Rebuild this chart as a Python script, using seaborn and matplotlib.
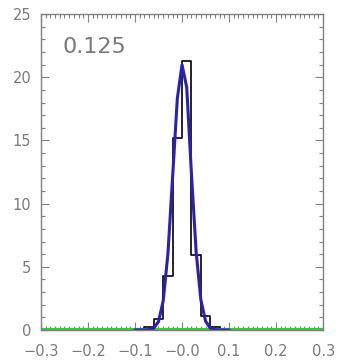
import numpy as np
import pandas as pd
import matplotlib
matplotlib.use("Agg")
import matplotlib.pyplot as plt
from matplotlib.ticker import MultipleLocator, FixedLocator, FixedFormatter
import seaborn as sns

# Histogram of residuals (density), bin edges and heights
bin_edges = [-0.12, -0.10, -0.08, -0.06, -0.04, -0.02, 0.00, 0.02, 0.04, 0.06, 0.08, 0.10, 0.12]
bin_heights = [0.0, 0.0, 0.2, 0.9, 4.3, 15.2, 21.3, 5.9, 1.1, 0.25, 0.0, 0.0]

# Fitted profile sampled points
fit_x = [-0.10, -0.08, -0.07, -0.06, -0.05, -0.04, -0.03, -0.02, -0.01, 0.00,
         0.01, 0.02, 0.03, 0.04, 0.05, 0.06, 0.07, 0.08, 0.10]
fit_y = [0.0, 0.0, 0.02, 0.14, 0.66, 2.3, 6.0, 12.1, 18.3, 21.0,
         19.2, 12.4, 6.2, 2.4, 0.7, 0.15, 0.02, 0.0, 0.0]

# Reference (near-zero) curve across the full range
ref_x = [-0.3, 0.3]
ref_y = [0.05, 0.05]

label_text = "0.125"
x_ticks = [-0.3, -0.2, -0.1, 0.0, 0.1, 0.2, 0.3]
x_tick_labels = ["\u22120.3", "\u22120.2", "\u22120.1", "\u22120.0", "0.1", "0.2", "0.3"]
y_ticks = [0, 5, 10, 15, 20, 25]

sns.set_style("white")
plt.rcParams["font.family"] = ["DejaVu Sans"]

fig = plt.figure(figsize=(3.38, 3.61), dpi=100)
ax = fig.add_axes([0.121, 0.086, 0.835, 0.875])

centers = [(a + b) / 2 for a, b in zip(bin_edges[:-1], bin_edges[1:])]
hist_df = pd.DataFrame({"x": centers, "w": bin_heights})
sns.histplot(data=hist_df, x="x", weights="w", bins=bin_edges, element="step",
             fill=False, color="black", linewidth=1.2, ax=ax)

sns.lineplot(x=ref_x, y=ref_y, color="#33cc33", linewidth=1.6, ax=ax)
sns.lineplot(x=fit_x, y=fit_y, color="#2b1fb5", linewidth=2.2, ax=ax)

ax.set_xlim(-0.3, 0.3)
ax.set_ylim(0, 25)
ax.set_xlabel("")
ax.set_ylabel("")

ax.xaxis.set_major_locator(FixedLocator(x_ticks))
ax.xaxis.set_major_formatter(FixedFormatter(x_tick_labels))
ax.xaxis.set_minor_locator(MultipleLocator(0.01))
ax.yaxis.set_major_locator(FixedLocator(y_ticks))
ax.yaxis.set_minor_locator(MultipleLocator(1))

gray = "#808080"
ax.tick_params(which="both", direction="in", top=True, right=True,
               bottom=True, left=True, color=gray, labelcolor="#7a7a7a",
               labelsize=10.5, width=0.8)
ax.tick_params(which="major", length=6)
ax.tick_params(axis="x", which="major", pad=10)
ax.tick_params(axis="y", which="major", pad=7)
ax.tick_params(which="minor", length=3)
for s in ax.spines.values():
    s.set_color(gray)
    s.set_linewidth(1.0)

ax.text(0.075, 0.895, label_text, transform=ax.transAxes, fontsize=16,
        color="#7a7a7a", ha="left", va="center")

fig.savefig("out.png", dpi=100)
